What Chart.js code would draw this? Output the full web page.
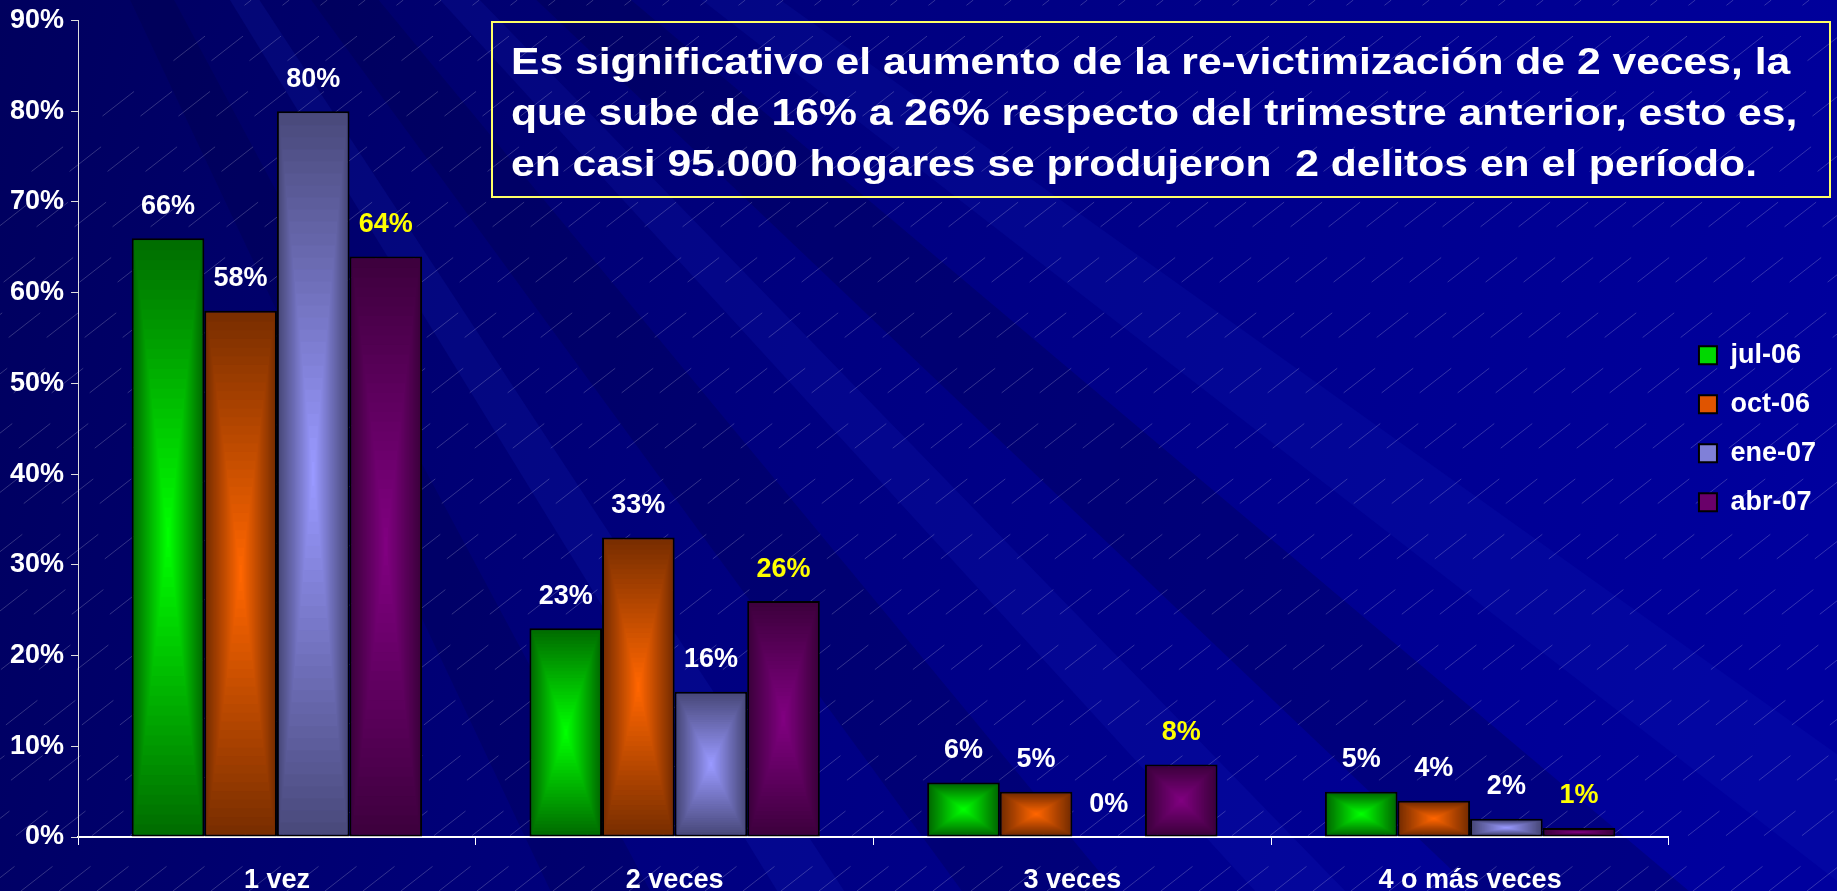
<!DOCTYPE html>
<html>
<head>
<meta charset="utf-8">
<script src="https://cdn.jsdelivr.net/npm/chart.js@4"></script>
<style>
html,body{margin:0;padding:0;background:#000070;overflow:hidden}
#wrap{position:relative;width:1837px;height:891px}
#note{position:absolute;left:491px;top:21px;width:1340px;height:177px;box-sizing:border-box;
  border:2px solid #ffff66;padding:13px 0 0 18px;color:#fff;overflow:hidden}
#note div{font:bold 37px "Liberation Sans",Arial,sans-serif;line-height:51px;white-space:pre;
  transform:scaleX(1.152);transform-origin:0 0}
</style>
</head>
<body>
<div id="wrap">
<canvas id="c" width="1837" height="891"></canvas>
<div id="note"><div>Es significativo el aumento de la re-victimización de 2 veces, la
que sube de 16% a 26% respecto del trimestre anterior, esto es,
en casi 95.000 hogares se produjeron  2 delitos en el período.</div></div>
</div>
<script>
// datos
var categories = ['1 vez', '2 veces', '3 veces', '4 o más veces'];
var seriesNames = ['jul-06', 'oct-06', 'ene-07', 'abr-07'];
var jul06 = [66, 23, 6, 5];
var oct06 = [58, 33, 5, 4];
var ene07 = [80, 16, 0, 2];
var abr07 = [64, 26, 8, 1];
var yMax = 90, yStep = 10;

var values = [jul06, oct06, ene07, abr07];
var edgeColors = ['#006e00', '#7a2e00', '#4a4a7c', '#3e003e'];
var centerColors = ['#00ff00', '#ff6600', '#9999ff', '#800080'];
var legendColors = ['#00d800', '#e05400', '#8080d8', '#6a006a'];
var labelColors = ['#ffffff', '#ffffff', '#ffffff', '#ffff00'];

Chart.defaults.font.family = '"Liberation Sans", Arial, sans-serif';

function hex(c){ return [parseInt(c.substr(1,2),16), parseInt(c.substr(3,2),16), parseInt(c.substr(5,2),16)]; }
function mix(a, b, t){
	var x = hex(a), y = hex(b);
	return 'rgb(' + Math.round(x[0]+(y[0]-x[0])*t) + ',' + Math.round(x[1]+(y[1]-x[1])*t) + ',' + Math.round(x[2]+(y[2]-x[2])*t) + ')';
}

// fondo azul con franjas y lineas diagonales
var bgPlugin = {
	id: 'bg',
	beforeDraw: function(chart){
		var c = chart.ctx, W = chart.width, H = chart.height;
		c.save();
		var g = c.createLinearGradient(0, 0, W, H * 0.5);
		g.addColorStop(0, '#00005e');
		g.addColorStop(0.45, '#000080');
		g.addColorStop(1, '#00009e');
		c.fillStyle = g;
		c.fillRect(0, 0, W, H);
		var ox = -200, oy = -700;
		var rays = [
			[0.62, 0.66, 'rgba(20,40,200,0.14)'],
			[0.70, 0.76, 'rgba(0,0,50,0.22)'],
			[0.80, 0.83, 'rgba(30,50,220,0.13)'],
			[0.88, 0.94, 'rgba(0,0,50,0.20)'],
			[0.99, 1.02, 'rgba(30,60,230,0.12)'],
			[1.08, 1.13, 'rgba(0,0,50,0.18)']
		];
		rays.forEach(function(r){
			c.beginPath();
			c.moveTo(ox, oy);
			c.lineTo(ox + 5000 * Math.cos(r[0]), oy + 5000 * Math.sin(r[0]));
			c.lineTo(ox + 5000 * Math.cos(r[1]), oy + 5000 * Math.sin(r[1]));
			c.closePath();
			c.fillStyle = r[2];
			c.fill();
		});
		c.strokeStyle = 'rgba(255,255,255,0.2)';
		c.lineWidth = 1;
		c.setLineDash([40, 50]);
		for (var s = -H; s < W + H; s += 38) {
			c.beginPath();
			c.moveTo(s, H);
			c.lineTo(s + H / 0.78, 0);
			c.stroke();
		}
		c.restore();
	}
};

// degradado desde el centro de cada barra
var shadePlugin = {
	id: 'shade',
	afterDatasetsDraw: function(chart){
		var c = chart.ctx;
		c.save();
		chart.data.datasets.forEach(function(ds, i){
			chart.getDatasetMeta(i).data.forEach(function(bar){
				var p = bar.getProps(['x', 'y', 'base', 'width'], true);
				var bw = 2;
				var l = p.x - p.width / 2 + bw, r = p.x + p.width / 2 - bw;
				var t = Math.min(p.y, p.base) + bw, b = Math.max(p.y, p.base) - bw;
				if (r <= l || b <= t) return;
				var cx = (l + r) / 2, cy = (t + b) / 2, hw = (r - l) / 2, hh = (b - t) / 2;
				var N = 30;
				for (var k = 0; k < N; k++) {
					var f = 1 - k / N;
					c.fillStyle = mix(edgeColors[i], centerColors[i], k / (N - 1));
					c.fillRect(cx - hw * f, cy - hh * f, 2 * hw * f, 2 * hh * f);
				}
			});
		});
		c.restore();
	}
};

// etiquetas de valor
var labelPlugin = {
	id: 'vals',
	afterDatasetsDraw: function(chart){
		var c = chart.ctx;
		c.save();
		c.font = 'bold 27px "Liberation Sans", Arial, sans-serif';
		c.textAlign = 'center';
		c.textBaseline = 'middle';
		chart.data.datasets.forEach(function(ds, i){
			chart.getDatasetMeta(i).data.forEach(function(bar, j){
				c.fillStyle = labelColors[i];
				c.fillText(ds.data[j] + '%', bar.x, bar.y - 32);
			});
		});
		c.restore();
	}
};

var legendShift = {
	id: 'legendShift',
	afterLayout: function(chart){
		chart.legend.left += 8;
		chart.legend.right += 8;
	}
};

new Chart(document.getElementById('c'), {
	type: 'bar',
	data: {
		labels: categories,
		datasets: seriesNames.map(function(name, i){
			return {
				label: name,
				data: values[i],
				backgroundColor: edgeColors[i],
				borderColor: '#000000',
				borderWidth: function(ctx){ return ctx.raw === 0 ? 0 : 2; },
				borderSkipped: false,
				barPercentage: 1,
				categoryPercentage: 0.73
			};
		})
	},
	options: {
		responsive: false,
		animation: false,
		layout: { padding: { left: 3, top: 9, right: 19, bottom: -25 } },
		plugins: {
			tooltip: { enabled: false },
			legend: {
				position: 'right',
				fullSize: false,
				labels: {
					color: '#ffffff',
					font: { size: 27, weight: 'bold' },
					boxWidth: 18,
					boxHeight: 18,
					padding: 22,
					generateLabels: function(chart){
						var items = Chart.defaults.plugins.legend.labels.generateLabels(chart);
						items.forEach(function(it, i){
							it.fillStyle = legendColors[i];
							it.strokeStyle = '#000000';
							it.lineWidth = 2;
						});
						return items;
					}
				}
			}
		},
		scales: {
			x: {
				grid: { drawOnChartArea: false, tickLength: 8, color: '#ffffff', offset: true },
				border: { color: '#ffffff', width: 2 },
				ticks: { color: '#ffffff', font: { size: 27, weight: 'bold', lineHeight: 1 }, padding: 22, maxRotation: 0, autoSkip: false }
			},
			y: {
				min: 0,
				max: yMax,
				grid: { drawOnChartArea: false, tickLength: 7, color: '#dddddd' },
				border: { color: '#dddddd', width: 1 },
				ticks: {
					stepSize: yStep,
					color: '#ffffff',
					font: { size: 27, weight: 'bold', lineHeight: 1 },
					padding: 7,
					callback: function(v){ return v + '%'; }
				}
			}
		}
	},
	plugins: [bgPlugin, shadePlugin, labelPlugin, legendShift]
});
</script>
</body>
</html>
